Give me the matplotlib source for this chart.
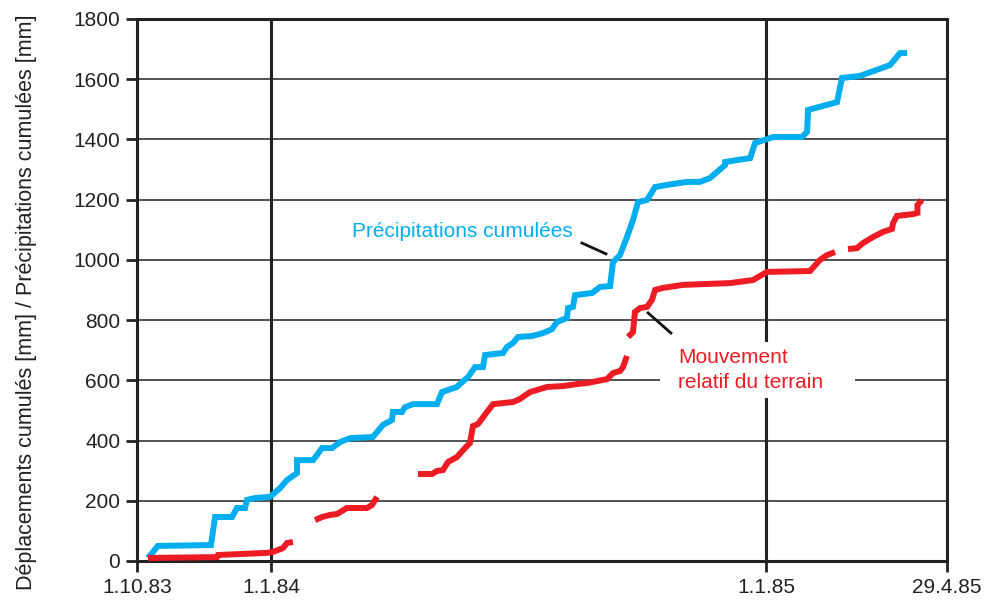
import numpy as np
import matplotlib
matplotlib.use("Agg")
import matplotlib.pyplot as plt
from matplotlib.patches import Rectangle

plt.rcParams['font.family'] = ['Liberation Sans', 'DejaVu Sans']

# x in days since 1.10.83, y in mm
precip_days = [7.8, 14.9, 52.6, 55.5, 67.6, 71.1, 76.8, 78.2, 83.9, 94.6, 101.7, 106.7,
               113.8, 113.8, 125.2, 131.6, 138.7, 144.4, 151.5, 167.8, 174.9, 181.3,
               182.0, 188.4, 190.6, 196.3, 213.3, 216.9, 227.5, 231.1, 235.4, 240.4,
               246.0, 247.5, 260.3, 263.1, 267.4, 270.9, 280.9, 288.7, 295.1, 298.7,
               305.8, 306.5, 310.0, 311.5, 323.6, 329.2, 336.4, 338.5, 343.5, 348.4,
               352.7, 354.1, 356.3, 362.7, 368.4, 376.9, 391.1, 400.4, 407.5, 418.2,
               418.2, 427.4, 436.0, 439.5, 452.3, 472.9, 476.5, 477.2, 497.8, 501.3,
               514.1, 535.5, 542.6, 547.6]
precip_mm = [10, 50, 53, 146, 146, 176, 176, 203, 209, 213, 242, 269,
             292, 335, 335, 375, 375, 395, 408, 412, 452, 468,
             495, 495, 511, 521, 521, 561, 578, 594, 611, 644,
             644, 684, 691, 711, 724, 744, 747, 757, 770, 794,
             807, 840, 844, 883, 890, 910, 913, 993, 1016, 1076,
             1132, 1156, 1192, 1199, 1242, 1249, 1259, 1259, 1272, 1315,
             1325, 1332, 1338, 1388, 1408, 1408, 1425, 1498, 1524, 1604,
             1611, 1647, 1687, 1687]

# ground movement, interrupted record -> several pieces
move_days = [
    [7.8, 56.9, 57.6, 92.4, 96.7, 103.8, 106.7, 110.9],
    [126.6, 131.6, 137.2, 142.2, 149.3, 163.6, 167.1, 170.7],
    [199.8, 209.8, 213.3, 217.6, 221.2, 227.5, 233.2, 236.8, 238.9, 242.5, 248.9,
     253.2, 267.4, 272.3, 279.5, 291.6, 302.9, 313.6, 320.0, 334.2, 338.5, 343.5,
     345.6, 348.4],
    [349.2, 352.7, 354.1, 357.7, 362.7, 366.2, 368.4, 374.0, 388.3, 421.7, 438.0,
     448.0, 478.6, 485.7, 490.7, 496.4],
    [505.6, 512.0, 516.3, 523.4, 530.5, 536.9, 537.6, 540.4, 551.8, 555.0, 555.0, 558.2],
]
move_mm = [
    [10, 13, 20, 27, 30, 43, 60, 63],
    [136, 146, 153, 156, 176, 176, 186, 213],
    [289, 289, 299, 302, 329, 345, 375, 392, 448, 455, 495,
     521, 528, 538, 561, 578, 581, 588, 591, 604, 624, 631,
     644, 681],
    [744, 760, 827, 840, 844, 867, 900, 907, 917, 923, 933,
     960, 963, 1000, 1016, 1026],
    [1036, 1039, 1056, 1076, 1093, 1103, 1122, 1146, 1152, 1156, 1182, 1199],
]

tick_days = [0, 95.3, 447.3, 576]
tick_labels = ["1.10.83", "1.1.84", "1.1.85", "29.4.85"]
y_ticks = np.arange(0, 1801, 200)

blue = "#00AEEF"
red = "#ED1C24"

fig = plt.figure(figsize=(9.91, 6.02), dpi=100)
ax = fig.add_axes([137 / 991, 41 / 602, 810 / 991, 542 / 602])

for y in y_ticks[1:-1]:
    ax.axhline(y, color="#333333", lw=1.2, zorder=1)
for d in tick_days[1:3]:
    ax.axvline(d, color="#222222", lw=2.2, zorder=1)

ax.plot(precip_days, precip_mm, color=blue, lw=4.3, solid_joinstyle="miter",
        solid_capstyle="butt", zorder=3)
for xs, ys in zip(move_days, move_mm):
    ax.plot(xs, ys, color=red, lw=4.3, solid_joinstyle="miter",
            solid_capstyle="butt", zorder=3)

ax.set_xlim(0, 576)
ax.set_ylim(0, 1800)
ax.set_xticks(tick_days)
ax.set_xticklabels(tick_labels)
ax.set_yticks(y_ticks)
ax.tick_params(axis="both", direction="out", length=8, width=2, labelsize=15,
               colors="#222222", pad=4)
for s in ax.spines.values():
    s.set_linewidth(2.2)
    s.set_color("#222222")

ax.set_ylabel("Déplacements cumulés [mm] / Précipitations cumulées [mm]",
              fontsize=15.5, color="#222222")
ax.yaxis.set_label_coords(-0.124, 0.478)

ax.text(310, 1093, "Précipitations cumulées", color=blue, fontsize=15,
        ha="right", va="center", zorder=4)
ax.plot([316.4, 333.5], [1056, 1020], color="#111111", lw=2, zorder=4)

# white patch behind the red label, cutting the grid lines
ax.add_patch(Rectangle((371.9, 541), 138.7, 186, fc="white", ec="none", zorder=2))
ax.text(384.7, 634, "Mouvement\nrelatif du terrain", color=red, fontsize=15,
        ha="left", va="center", linespacing=1.45, zorder=4)
ax.plot([363.4, 379.7], [824, 757], color="#111111", lw=2, zorder=4)

fig.savefig("out.png", dpi=100)
